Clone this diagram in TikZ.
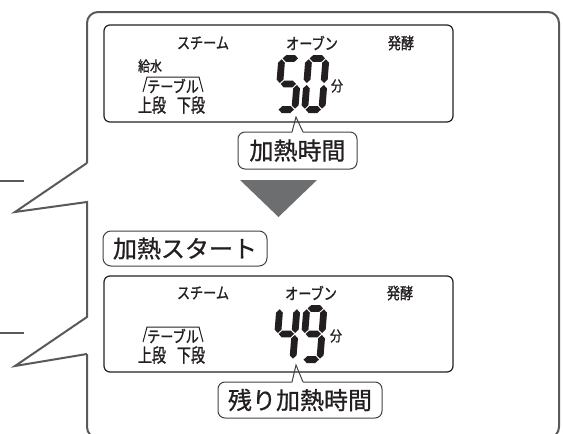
\documentclass[tikz,border=0pt]{standalone}
\usepackage{fontspec}
\newfontfamily\jp[FakeBold=0.9]{Noto Sans CJK JP}
\newfontfamily\jpn[FakeStretch=0.82,FakeBold=1.2]{Noto Sans CJK JP}
\newfontfamily\jpc[FakeStretch=0.74,FakeBold=1.2]{Noto Sans CJK JP}
\definecolor{ink}{HTML}{231F20}
\definecolor{frame}{HTML}{59595B}
\definecolor{arrowgray}{HTML}{6D6E70}
\newcommand\hseg[3]{\fill (#1,#3) -- (#1+3.4,#3+3.4) -- (#2-3.4,#3+3.4) -- (#2,#3) -- (#2-3.4,#3-3.4) -- (#1+3.4,#3-3.4) -- cycle;}
\newcommand\vseg[3]{\fill (#1,#2) -- (#1+3.4,#2+3.4) -- (#1+3.4,#3-3.4) -- (#1,#3) -- (#1-3.4,#3-3.4) -- (#1-3.4,#2+3.4) -- cycle;}
\def\sega{\hseg{4.3}{19.7}{54.6}}
\def\segg{\hseg{4.3}{19.7}{29}}
\def\segd{\hseg{4.3}{19.7}{3.4}}
\def\segf{\vseg{3.4}{30}{53.7}}
\def\sege{\vseg{3.4}{4.3}{28}}
\def\segb{\vseg{20.6}{30}{53.7}}
\def\segc{\vseg{20.6}{4.3}{28}}
\newcommand\lcddigit[2]{\begin{scope}[shift={#1}, xslant=0.08, y=1pt, fill=ink]
\foreach \s in {#2}{\csname seg\s\endcsname}
\end{scope}}
\tikzset{
  outerline/.style={draw=frame, line width=2pt},
  lcdbox/.style={draw=ink, line width=1.2pt, rounded corners=6},
  calloutline/.style={draw=ink!85, line width=1pt},
  lbl/.style={inner sep=0, text=ink, font=\jpn\fontsize{16}{16}\selectfont},
  small/.style={inner sep=0, text=ink, font=\jpn\fontsize{14.5}{15}\selectfont},
  dan/.style={inner sep=0, text=ink, font=\jpc\fontsize{19}{19}\selectfont},
  big/.style={inner sep=0, text=ink, font=\jp\fontsize{24}{24}\selectfont},
}
\begin{document}
\begin{tikzpicture}[x=1pt, y=-1pt]
\useasboundingbox (0,0) rectangle (563,434);
\clip (0,0) rectangle (563,434);
% outer frame with two speech pointers
\draw[outerline, line join=miter] (87,163) -- (15,212) -- (87,202) -- (87,317) -- (15,366) -- (87,354);
\draw[outerline, rounded corners=11] (87,163) -- (87,12) -- (559,12) -- (559,438) -- (87,438) -- (87,354);
\draw[outerline] (0,181) -- (24,181);
\draw[outerline] (0,333) -- (24,333);

% upper LCD
\draw[lcdbox] (104,25) rectangle (453,122);
\node[lbl] (steam1) at (203,43) {スチーム};
\node[lbl] (oven1) at (312,43) {オーブン};
\node[lbl] (hakko1) at (401,43) {発酵};
\node[small] (kyusui) at (150,66) {給水};
\draw[ink, line width=1pt] (143,92) -- (147,77) -- (199,77) -- (203,92);
\node[lbl] (table1) at (173,86) {テーブル};
\node[dan] (jo1) at (152,105) {上段};
\node[dan] (ka1) at (191,105) {下段};
\lcddigit{(274,113)}{a,f,g,c,d}
\lcddigit{(301,113)}{a,b,c,d,e,f}
\node[small] (fun1) at (337,86) {分};

% callout 1
\draw[calloutline, rounded corners=7] (292,132) -- (238,132) -- (238,169) -- (357,169) -- (357,132) -- (303,132);
\draw[calloutline] (292,132) -- (296,117) -- (303,132);
\node[big] (kanetsu) at (297.5,150.5) {加熱時間};

% arrow triangle
\fill[arrowgray] (240,180) -- (317,180) -- (278.5,217) -- cycle;

% start box
\draw[calloutline, rounded corners=8] (103,231) rectangle (267,266);
\node[big] (start) at (185,248.5) {加熱スタート};

% lower LCD
\draw[lcdbox] (104,276) rectangle (453,372);
\node[lbl] (steam2) at (203,293) {スチーム};
\node[lbl] (oven2) at (311,293) {オーブン};
\node[lbl] (hakko2) at (400,293) {発酵};
\draw[ink, line width=1pt] (143,342) -- (147,327) -- (199,327) -- (203,342);
\node[lbl] (table2) at (173,336) {テーブル};
\node[dan] (jo2) at (152,355) {上段};
\node[dan] (ka2) at (191,355) {下段};
\lcddigit{(272,363)}{f,g,b,c}
\lcddigit{(299,363)}{a,b,c,d,f,g}
\node[small] (fun2) at (336,336) {分};

% callout 2
\draw[calloutline, rounded corners=7] (292,382) -- (218,382) -- (218,418) -- (382,418) -- (382,382) -- (303,382);
\draw[calloutline] (292,382) -- (296,365) -- (303,382);
\node[big] (nokori) at (300,400) {残り加熱時間};
\end{tikzpicture}
\end{document}
